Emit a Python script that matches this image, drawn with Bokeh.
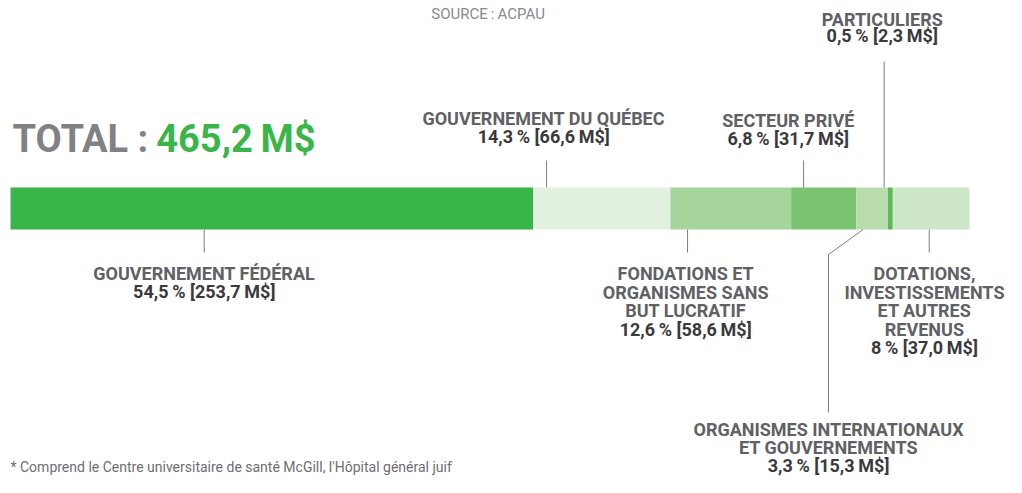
from bokeh.plotting import figure
from bokeh.models import ColumnDataSource, Range1d
from bokeh.core.properties import value
from bokeh.embed import file_html
from bokeh.resources import INLINE
import numpy as np

# ---------------- data ----------------
categories = [
    "GOUVERNEMENT FÉDÉRAL",
    "GOUVERNEMENT DU QUÉBEC",
    "FONDATIONS ET\nORGANISMES SANS\nBUT LUCRATIF",
    "SECTEUR PRIVÉ",
    "ORGANISMES INTERNATIONAUX\nET GOUVERNEMENTS",
    "PARTICULIERS",
    "DOTATIONS,\nINVESTISSEMENTS\nET AUTRES\nREVENUS",
]
percents = [54.5, 14.3, 12.6, 6.8, 3.3, 0.5, 8.0]
amounts = [253.7, 66.6, 58.6, 31.7, 15.3, 2.3, 37.0]
total_amount = 465.2
source_text = "SOURCE\u2009:\u2009ACPAU"
footnote = "* Comprend le Centre universitaire de santé McGill, l'Hôpital général juif"

colors = ["#3AB54A", "#E3F1E0", "#A5D59B", "#7AC472", "#B8DCAE", "#5CB85B", "#CFE7C9"]

# ---------------- layout (label placement) ----------------
# x in percent units of the bar, y in page pixels (top = 0)
label_x = [20.2, 55.6, 70.4, 81.1, 85.3, 90.9, 95.3]
label_base = [272.5, 118, 273, 120, 429, 19, 273]
line_step = [18.0, 18.0, 18.5, 18.0, 18.0, 16.0, 18.5]
leader_xs = [[20.2, 20.2], [55.9, 55.9], [70.6, 70.6], [82.7, 82.7],
             [88.9, 85.3, 85.3], [91.1, 91.1], [95.8, 95.8]]
leader_ys = [[229, 252], [160, 187], [229, 252], [160, 187],
             [229, 254, 412], [61, 187], [229, 252]]

PX_PER_PCT = 9.59
LEFT_PX = 10
W, H = 1006, 477
BAR_Y, BAR_H = 208, 42

p = figure(width=W, height=H, output_backend="svg", toolbar_location=None,
           x_range=Range1d(-LEFT_PX / PX_PER_PCT, (W - LEFT_PX) / PX_PER_PCT),
           y_range=Range1d(H, 0),
           x_axis_location=None, y_axis_location=None,
           min_border=0, outline_line_color=None, background_fill_color="white")
p.grid.visible = False

ends = np.cumsum(percents)
starts = ends - np.array(percents)
bars = ColumnDataSource(dict(left=starts, right=ends, color=colors))
p.hbar(y=BAR_Y, height=BAR_H, left="left", right="right", color="color", source=bars, line_color=None)

p.multi_line(xs=leader_xs, ys=leader_ys, line_color="#7d7d7d", line_width=1)

def fr(v, nd=None):
    s = f"{v:g}" if nd is None else f"{v:.{nd}f}"
    return s.replace(".", ",")

nx, ny, nt = [], [], []
bx, by, bt = [], [], []
for i, cat in enumerate(categories):
    lines = cat.split("\n")
    for j, ln in enumerate(lines):
        nx.append(label_x[i]); ny.append(label_base[i] + j * line_step[i]); nt.append(ln)
    bx.append(label_x[i]); by.append(label_base[i] + len(lines) * line_step[i])
    bt.append(f"{fr(percents[i])}\u2009% [{fr(amounts[i], 1)}\u2009M$]")

FONT = value("Roboto")
p.text(x=nx, y=ny, text=nt, text_font=FONT, text_font_size="18px", text_font_style="bold",
       text_color="#606164", text_align="center", text_baseline="alphabetic")
p.text(x=bx, y=by, text=bt, text_font=FONT, text_font_size="18px", text_font_style="bold",
       text_color="#3A3A3C", text_align="center", text_baseline="alphabetic")

p.text(x=[0.2], y=[138], text=["TOTAL :"], text_font=FONT, text_font_size="38px",
       text_font_style="bold", text_color="#808285", text_align="left", text_baseline="alphabetic")
p.text(x=[15.2], y=[138], text=[f"{fr(total_amount, 1)}\u2009M$"], text_font=FONT,
       text_font_size="38px", text_font_style="bold", text_color="#3AB54A",
       text_align="left", text_baseline="alphabetic")

p.text(x=[49.8], y=[13.5], text=[source_text], text_font=FONT, text_font_size="15px",
       text_color="#8A8A8C", text_align="center", text_baseline="alphabetic")

p.text(x=[0.0], y=[466], text=[footnote], text_font=FONT, text_font_size="14px",
       text_color="#6D6E71", text_align="left", text_baseline="alphabetic")

open("out.html", "w").write(file_html(p, INLINE))
